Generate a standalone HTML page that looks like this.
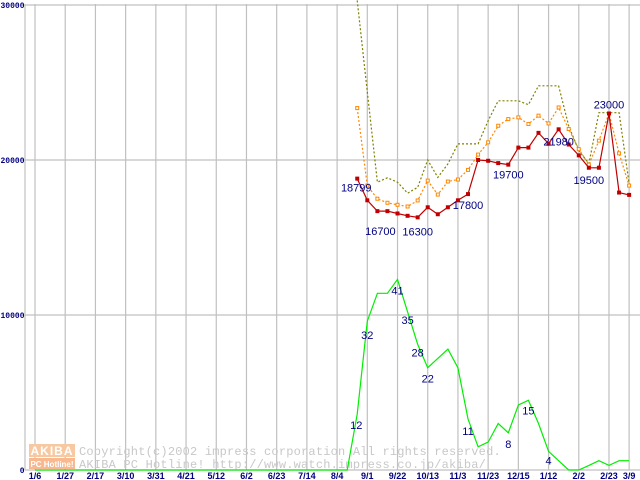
<!DOCTYPE html>
<html><head><meta charset="utf-8"><style>
html,body{margin:0;padding:0;background:#fff;width:640px;height:480px;overflow:hidden}
svg{display:block}
</style></head><body>
<svg id="chart" width="640" height="480" xmlns="http://www.w3.org/2000/svg" font-family="'Liberation Sans', sans-serif"></svg>
<script>
const xTickLabels=["1/6","1/27","2/17","3/10","3/31","4/21","5/12","6/2","6/23","7/14","8/4","9/1","9/22","10/13","11/3","11/23","12/15","1/12","2/2","2/23","3/9"];
const xTickIdx=[0,3,6,9,12,15,18,21,24,27,30,33,36,39,42,45,48,51,54,57,59];
const yTicks=[0,10000,20000,30000];
const yTickLabels=["0","10000","20000","30000"];
const redStart=32;
const redVals=[18799,17400,16700,16700,16550,16400,16300,16950,16500,16950,17400,17800,20000,19950,19800,19700,20800,20800,21750,21050,21980,21000,20300,19500,19500,23000,17900,17750];
const orangeVals=[23350,18350,17500,17240,17110,17000,17390,18670,17770,18610,18740,19360,20350,21140,22210,22640,22750,22320,22860,22360,23390,22000,20700,19700,21250,23000,20430,18350];
const oliveVals=[30300,24400,18570,18850,18570,17860,18240,20000,18880,19750,21040,21040,21040,22540,23820,23820,23820,23570,24790,24790,24790,22200,20600,19770,23050,23050,23050,18480];
const greenCounts=[0,0,0,0,0,0,0,0,0,0,0,0,0,0,0,0,0,0,0,0,0,0,0,0,0,0,0,0,0,0,0,0,12,32,38,38,41,34,27,22,24,26,22,11,5,6,10,8,14,15,10,4,2,0,0,1,2,1,2,2];
const greenScale=300;
const redLabels=["18799","16700","16300","17800","19700","21980","19500","23000"];
const redLabelIdx=[32,34,38,43,47,52,55,57];
const greenLabels=["12","32","41","35","28","22","11","8","15","4"];
const greenLabelIdx=[32,33,36,37,38,39,43,47,49,51];

const NS="http://www.w3.org/2000/svg";
const svg=document.getElementById('chart');
const X=i=>35+i*10.07;
const Y=v=>470-v*0.0155;
function mk(tag,attrs,parent){const e=document.createElementNS(NS,tag);for(const k in attrs)e.setAttribute(k,attrs[k]);(parent||svg).appendChild(e);return e;}

const grid=mk('g',{});


yTicks.forEach((t,k)=>{
  const l=mk('line',{x1:25,x2:640,y1:Y(t),y2:Y(t),stroke:'#c0c0c0','stroke-width':1.2},grid);
  
  
  const tx=mk('text',{x:24.5,y:Y(t)+3,'text-anchor':'end','font-size':8,'font-weight':'bold',fill:'#000080','font-family':"'Liberation Mono', monospace"});
  tx.textContent=yTickLabels[k];
  
  
});
mk('line',{x1:25,x2:25,y1:4,y2:470,stroke:'#c0c0c0','stroke-width':1.2},grid);
xTickIdx.forEach((ix,k)=>{
  const l=mk('line',{x1:X(ix),x2:X(ix),y1:4,y2:470,stroke:'#c0c0c0','stroke-width':1.2},grid);
  
  
  const tx=mk('text',{x:X(ix),y:479,'text-anchor':'middle','font-size':9,'font-weight':'bold',fill:'#000080'});
  tx.textContent=xTickLabels[k];
  
  
});

const wm=mk('g',{});


mk('rect',{x:29,y:444,width:46,height:13,fill:'#f8c8a0'},wm);
mk('rect',{x:29,y:458,width:46,height:11,fill:'#f8b890'},wm);
const t1=mk('text',{x:52,y:455,'text-anchor':'middle','font-size':12,'font-weight':'bold',fill:'#fff','letter-spacing':1},wm);t1.textContent='AKIBA';
const t2=mk('text',{x:52,y:467,'text-anchor':'middle','font-size':8,'font-weight':'bold',fill:'#fff'},wm);t2.textContent='PC Hotline!';
const c1=mk('text',{x:79,y:455,'font-size':12,fill:'#c8c8c8','font-family':"'Liberation Mono', monospace",'letter-spacing':0.2},wm);c1.textContent='Copyright(c)2002 impress corporation All rights reserved.';
const c2=mk('text',{x:79,y:468,'font-size':12,fill:'#c8c8c8','font-family':"'Liberation Mono', monospace",'letter-spacing':0.2},wm);c2.textContent='AKIBA PC Hotline!  http://www.watch.impress.co.jp/akiba/';

const defs=mk('defs',{});
const cp=mk('clipPath',{id:'plot'},defs);
mk('rect',{x:25,y:0,width:615,height:471},cp);

function pts(vals,start){return vals.map((v,i)=>X(start+i).toFixed(1)+','+Y(v).toFixed(1)).join(' ');}
const g=mk('polyline',{points:pts(greenCounts.map(c=>c*greenScale),0),fill:'none',stroke:'#00ee00','stroke-width':1.2});


const o=mk('polyline',{points:pts(oliveVals,redStart),fill:'none',stroke:'#808000','stroke-width':1.2,'stroke-dasharray':'2,2','clip-path':'url(#plot)'});


const or=mk('polyline',{points:pts(orangeVals,redStart),fill:'none',stroke:'#ff8800','stroke-width':1.2,'stroke-dasharray':'2,2'});


orangeVals.forEach((v,i)=>{
  const r=mk('rect',{x:X(redStart+i)-1.5,y:Y(v)-1.5,width:3,height:3,fill:'#fff',stroke:'#ff8800','stroke-width':1});
  
  
});
const rd=mk('polyline',{points:pts(redVals,redStart),fill:'none',stroke:'#c00000','stroke-width':1.2});


redVals.forEach((v,i)=>{
  const r=mk('rect',{x:X(redStart+i)-2,y:Y(v)-2,width:4,height:4,fill:'#c00000'});
  
  
});
redLabels.forEach((s,k)=>{
  const i=redLabelIdx[k];const v=redVals[i-redStart];
  const offs={32:[-1,13],34:[3,24],38:[0,18],43:[0,15],47:[0,14],52:[0,16],55:[0,16],57:[0,-5]}[i];
  const t=mk('text',{x:X(i)+offs[0],y:Y(v)+offs[1],'text-anchor':'middle','font-size':11,fill:'#000080'});
  t.textContent=s;
  
  
});
greenLabels.forEach((s,k)=>{
  const i=greenLabelIdx[k];const v=greenCounts[i]*greenScale;
  const offs={32:[-1,15],33:[0,18],36:[0,15],37:[0,12],38:[0,12],39:[0,15],43:[0,16],47:[0,15],49:[0,14],51:[0,13]}[i];
  const t=mk('text',{x:X(i)+offs[0],y:Y(v)+offs[1],'text-anchor':'middle','font-size':11,fill:'#000080'});
  t.textContent=s;
  
  
});
</script>
</body></html>
